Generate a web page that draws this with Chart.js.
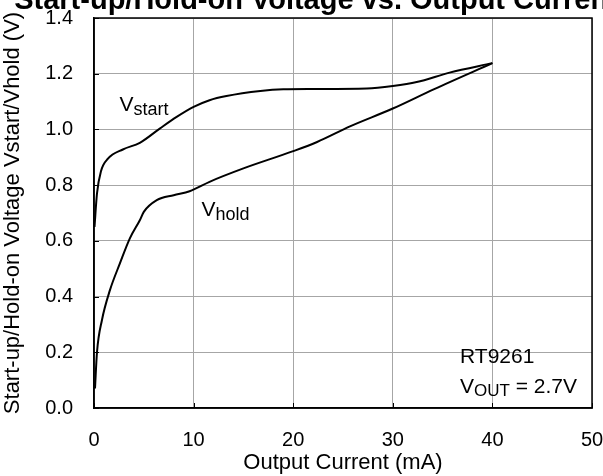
<!DOCTYPE html>
<html>
<head>
<meta charset="utf-8">
<script src="https://cdn.jsdelivr.net/npm/chart.js@4.4.0/dist/chart.umd.min.js"></script>
<style>
  html, body { margin: 0; padding: 0; background: #fff; }
  #wrap { width: 603px; height: 476px; position: relative; }
</style>
</head>
<body>
<div id="wrap"><canvas id="c" width="603" height="476"></canvas></div>
<script>
// ---- data ----
const titleText = "Start-up/Hold-on Voltage vs. Output Current";
const xTitle = "Output Current (mA)";
const yTitle = "Start-up/Hold-on Voltage Vstart/Vhold (V)";

const vstartCurrent = [0.05, 0.3, 0.7, 1.4, 2.9, 4.6, 6.6, 8.3, 10, 11.6, 13.3, 16.7, 19, 22, 27.4, 30, 32.4, 35.7, 40];
const vstartVoltage = [0.65, 0.77, 0.85, 0.895, 0.928, 0.952, 1.003, 1.045, 1.081, 1.105, 1.12, 1.138, 1.144, 1.145, 1.147, 1.156, 1.17, 1.204, 1.238];

const vholdCurrent = [0.1, 0.3, 0.8, 1.6, 2.6, 3.6, 4.6, 5.0, 6.3, 8.0, 9.6, 11.6, 15, 20, 22.4, 25.7, 30, 34.1, 40];
const vholdVoltage = [0.07, 0.2, 0.316, 0.423, 0.519, 0.609, 0.674, 0.704, 0.746, 0.764, 0.778, 0.812, 0.86, 0.922, 0.955, 1.011, 1.075, 1.144, 1.238];

const xTicks = [0, 10, 20, 30, 40, 50];
const yTicks = [0, 0.2, 0.4, 0.6, 0.8, 1.0, 1.2, 1.4];

// annotation labels: [main, subscript, x, y (data units)]
const curveLabels = [
  ["V", "start", 2.55, 1.065],
  ["V", "hold", 10.8, 0.69]
];
const noteLines = [
  { x: 36.75, y: 0.16, parts: [["RT9261", 0]] },
  { x: 36.75, y: 0.053, parts: [["V", 0], ["OUT", 1], [" = 2.7V", 0]] }
];

const FONT = "'Liberation Sans', Arial, Helvetica, sans-serif";

const toPts = (xs, ys) => xs.map((x, i) => ({ x: x, y: ys[i] }));

const decor = {
  id: 'decor',
  afterDraw(chart) {
    const ctx = chart.ctx;
    const a = chart.chartArea;
    const xs = chart.scales.x, ys = chart.scales.y;
    ctx.save();
    // inward tick marks
    ctx.strokeStyle = '#000';
    ctx.lineWidth = 1;
    ctx.beginPath();
    xTicks.forEach(v => {
      const px = Math.round(xs.getPixelForValue(v)) + 0.5;
      ctx.moveTo(px, a.bottom); ctx.lineTo(px, a.bottom - 5);
    });
    yTicks.forEach(v => {
      const py = Math.round(ys.getPixelForValue(v)) + 0.5;
      ctx.moveTo(a.left, py); ctx.lineTo(a.left + 5, py);
    });
    ctx.stroke();
    // frame
    ctx.lineWidth = 1.5;
    ctx.strokeRect(a.left, a.top, a.right - a.left, a.bottom - a.top);

    // curve labels
    ctx.fillStyle = '#000';
    ctx.textBaseline = 'alphabetic';
    ctx.textAlign = 'left';
    curveLabels.forEach(([m, s, x, y]) => {
      const px = xs.getPixelForValue(x), py = ys.getPixelForValue(y);
      ctx.font = '21px ' + FONT;
      ctx.fillText(m, px, py);
      const w = ctx.measureText(m).width;
      ctx.font = '18px ' + FONT;
      ctx.fillText(s, px + w, py + 4);
    });
    // note lines
    noteLines.forEach(line => {
      let px = xs.getPixelForValue(line.x);
      const py = ys.getPixelForValue(line.y);
      line.parts.forEach(([t, sub]) => {
        ctx.font = (sub ? '17px ' : '21px ') + FONT;
        ctx.fillText(t, px, py + (sub ? 2.5 : 0));
        px += ctx.measureText(t).width;
      });
    });

    // main title, cut off by the top edge as in the reference
    ctx.font = 'bold 29px ' + FONT;
    ctx.textAlign = 'center';
    ctx.fillText(titleText, 316, 9);
    ctx.restore();
  }
};

const noPad = s => { s.paddingTop = 0; s.paddingBottom = 0; s.paddingLeft = 0; s.paddingRight = 0; };

new Chart(document.getElementById('c'), {
  type: 'scatter',
  data: {
    datasets: [
      {
        label: 'Vstart',
        data: toPts(vstartCurrent, vstartVoltage),
        showLine: true, borderColor: '#000', borderWidth: 2,
        pointRadius: 0, cubicInterpolationMode: 'monotone', fill: false
      },
      {
        label: 'Vhold',
        data: toPts(vholdCurrent, vholdVoltage),
        showLine: true, borderColor: '#000', borderWidth: 2,
        pointRadius: 0, cubicInterpolationMode: 'monotone', fill: false
      }
    ]
  },
  options: {
    responsive: false,
    animation: false,
    devicePixelRatio: 1,
    layout: { padding: { top: 18, right: 11, left: 0, bottom: 0 } },
    plugins: { legend: { display: false }, tooltip: { enabled: false }, title: { display: false } },
    scales: {
      x: {
        type: 'linear', min: 0, max: 50,
        afterBuildTicks: s => { s.ticks = xTicks.map(v => ({ value: v })); },
        afterFit: s => { s.height = 68; noPad(s); },
        grid: { color: '#a6a6a6', lineWidth: 1, drawTicks: false },
        border: { display: true, color: '#000', width: 1.5 },
        ticks: { color: '#000', font: { family: FONT, size: 20 }, padding: 20, maxRotation: 0 },
        title: { display: true, text: xTitle, color: '#000', font: { family: FONT, size: 22 }, padding: { top: 0, bottom: 0 } }
      },
      y: {
        type: 'linear', min: 0, max: 1.4,
        afterBuildTicks: s => { s.ticks = yTicks.map(v => ({ value: v })); },
        afterFit: s => { s.width = 94; noPad(s); },
        grid: { color: '#a6a6a6', lineWidth: 1, drawTicks: false },
        border: { display: true, color: '#000', width: 1.5 },
        ticks: { color: '#000', font: { family: FONT, size: 20 }, padding: 21, callback: v => v.toFixed(1) },
        title: { display: true, text: yTitle, color: '#000', font: { family: FONT, size: 22 }, padding: { top: 0, bottom: 0 } }
      }
    }
  },
  plugins: [decor]
});
</script>
</body>
</html>
